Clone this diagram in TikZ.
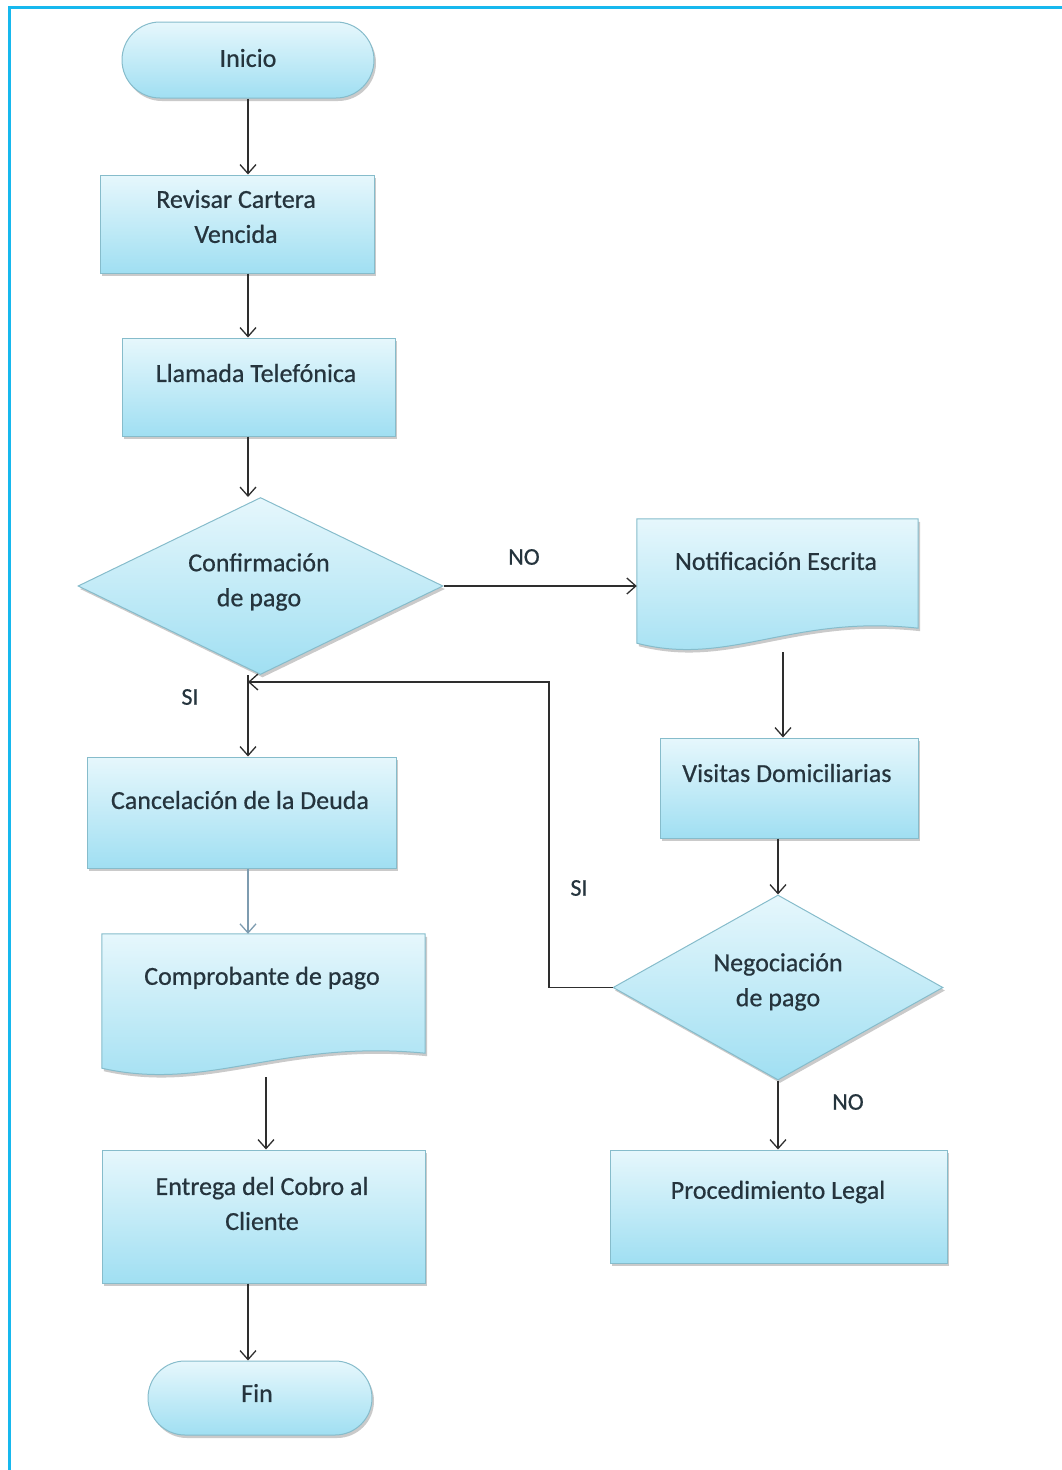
\documentclass[tikz,border=0pt]{standalone}
\usepackage{fontspec}
\setmainfont{Carlito}
\newfontfamily\heavyfont{Carlito}[FakeBold=0.6]
\usetikzlibrary{shapes.geometric,shapes.misc,arrows.meta,shadows,calc}
\definecolor{framec}{HTML}{17B8EE}
\definecolor{topc}{HTML}{E6F7FC}
\definecolor{botc}{HTML}{A0DFF2}
\definecolor{edgec}{HTML}{86BCCB}
\definecolor{txtc}{HTML}{25343D}
\definecolor{linec}{HTML}{2E2E2E}
\definecolor{palec}{HTML}{7E9CB0}
\pgfdeclarelayer{bg}
\pgfsetlayers{bg,main}
\tikzset{
  fc/.style={top color=topc,bottom color=botc,draw=edgec,line width=1pt,
    drop shadow={shadow xshift=2pt,shadow yshift=-3pt,opacity=.35,fill=black!60}},
  txt/.style={text=txtc,font=\heavyfont\fontsize{26}{35}\selectfont,align=center,inner sep=0pt},
  term/.style={fc,rounded rectangle,inner sep=0pt},
  proc/.style={fc,rectangle,inner sep=0pt},
  dec/.style={fc,diamond,inner sep=0pt},
  docbox/.style={rectangle,inner sep=0pt},
  arr/.style={draw=linec,line width=1.3pt,-{Straight Barb[length=9pt,width=16pt,line width=1.3pt]}},
  thickarr/.style={arr,line width=2.6pt},
  palearr/.style={arr,draw=palec},
  lbl/.style={text=txtc,font=\heavyfont\fontsize{24}{28}\selectfont,inner sep=0pt},
}
\newcommand{\docoutline}[1]{%
  \begin{pgfonlayer}{bg}
  \path[fc] (#1.north west) -- (#1.north east) -- ($(#1.south east)+(0,-24)$)
    .. controls ($(#1.south west)!0.55!(#1.south east)+(0,-38)$) and ($(#1.south west)!0.33!(#1.south east)+(0,15)$)
    .. ($(#1.south west)+(0,-9)$) -- cycle;
  \end{pgfonlayer}}
\begin{document}
\begin{tikzpicture}[x=1pt,y=-1pt]
\useasboundingbox (0,0) rectangle (1062,1470);
\draw[framec,line width=3pt] (9,1470) -- (9,7) -- (1062,7);

\coordinate (colA) at (248,0);

% shapes
\node[term,minimum width=252pt,minimum height=76pt] (inicio) at (248,60) {};
\node[proc,minimum width=274pt,minimum height=98pt] (revisar) at (237,224) {};
\node[proc,minimum width=273pt,minimum height=98pt] (llam) at (258.5,387) {};
\node[dec,minimum width=365pt,minimum height=177pt] (conf) at (260.5,586) {};
\node[docbox,minimum width=281pt,minimum height=133pt] (notif) at (777.5,585.5) {};
\docoutline{notif}
\node[proc,minimum width=258pt,minimum height=100pt] (visitas) at (789,788) {};
\node[dec,minimum width=330pt,minimum height=185pt] (neg) at (778,987.5) {};
\node[proc,minimum width=337pt,minimum height=113pt] (proc) at (778.5,1206.5) {};
\node[proc,minimum width=309pt,minimum height=111pt] (cancel) at (241.5,812.5) {};
\node[docbox,minimum width=323pt,minimum height=143pt] (comp) at (263.5,1005.5) {};
\docoutline{comp}
\node[proc,minimum width=323pt,minimum height=133pt] (entrega) at (263.5,1216.5) {};
\node[term,minimum width=224pt,minimum height=74pt] (fin) at (260,1398) {};

% texts
\node[txt] (inicioT) at (248,58) {Inicio};
\node[txt] (revisarT) at (236,216.5) {Revisar Cartera\\Vencida};
\node[txt] (llamT) at (256,373) {Llamada Telefónica};
\node[txt] (confT) at (259,582) {Confirmación\\de pago};
\node[txt] (notifT) at (776,561) {Notificación Escrita};
\node[txt] (visitasT) at (787,773) {Visitas Domiciliarias};
\node[txt] (negT) at (778,982) {Negociación\\de pago};
\node[txt] (procT) at (778,1192) {Procedimiento Legal};
\node[txt] (cancelT) at (240,800) {Cancelación de la Deuda};
\node[txt] (compT) at (262,978) {Comprobante de pago};
\node[txt] (entregaT) at (262,1203.5) {Entrega del Cobro al\\Cliente};
\node[txt] (finT) at (257,1393) {Fin};

% connectors
\draw[arr] (inicio.south) -- (inicio.south |- revisar.north);
\draw[arr] (colA |- revisar.south) -- (colA |- llam.north);
\draw[arr] (colA |- llam.south) -- (colA |- conf.north);
\draw[arr] (conf.east) -- (conf.east -| notif.west);
\draw[arr] (783,0 |- notif.south) -- (783,0 |- visitas.north);
\draw[thickarr] (neg.north |- visitas.south) -- (neg.north);
\draw[thickarr] (neg.south) -- (neg.south |- proc.north);
\coordinate (loopTop) at (549,682);
\coordinate (joinSI) at (248,682);
\draw[arr] (neg.west) -| (loopTop) -- (joinSI);
\draw[arr] (colA |- conf.south) -- (colA |- cancel.north);
\draw[palearr] (colA |- cancel.south) -- (colA |- comp.north);
\draw[arr] (266,0 |- comp.south) -- (266,0 |- entrega.north);
\draw[arr] (colA |- entrega.south) -- (colA |- fin.north);

% labels
\node[lbl] (noA) at (524,557) {NO};
\node[lbl] (siA) at (190,697) {SI};
\node[lbl] (siB) at (579,888) {SI};
\node[lbl] (noB) at (848,1102) {NO};
\end{tikzpicture}
\end{document}
